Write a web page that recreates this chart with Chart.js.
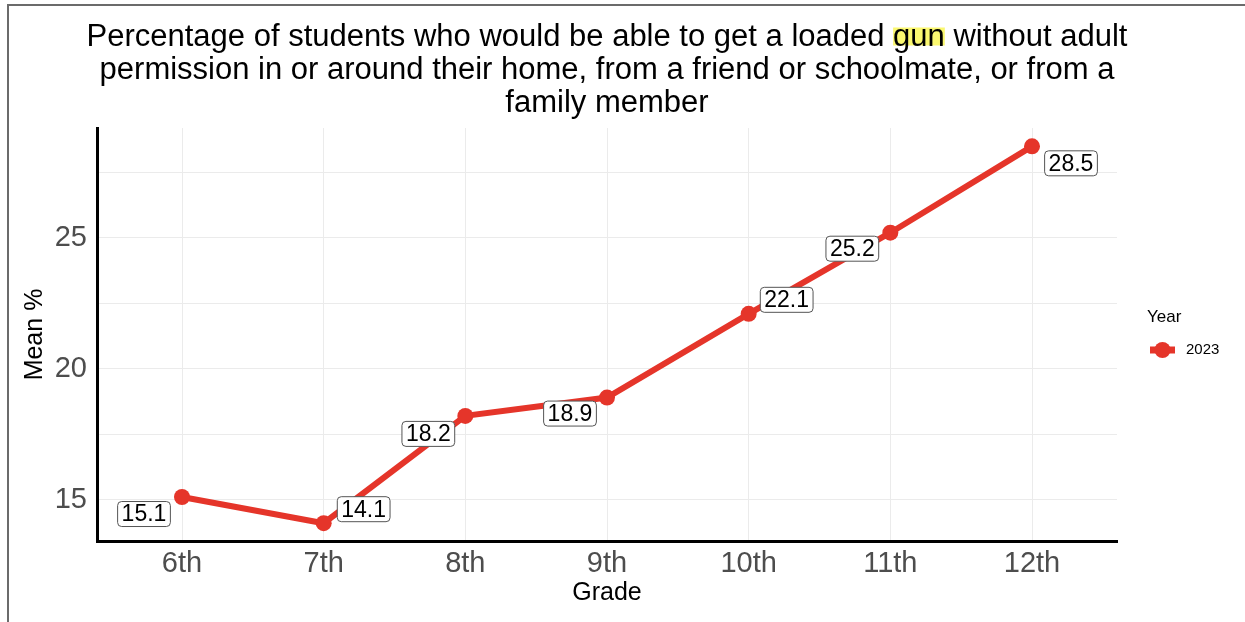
<!DOCTYPE html>
<html>
<head>
<meta charset="utf-8">
<script src="https://cdn.jsdelivr.net/npm/chart.js@4.4.1/dist/chart.umd.min.js"></script>
<style>
  html, body { margin: 0; padding: 0; background: #fff; }
  #wrap { width: 1245px; height: 622px; }
</style>
</head>
<body>
<div id="wrap"><canvas id="grafico" width="1245" height="622"></canvas></div>
<script>
const grados = ['6th', '7th', '8th', '9th', '10th', '11th', '12th'];
const valores = [15.1, 14.1, 18.2, 18.9, 22.1, 25.2, 28.5];
const ticksY = [15, 17.5, 20, 22.5, 25, 27.5];
const anio = '2023';

const tituloLineas = [
    'Percentage of students who would be able to get a loaded gun without adult',
    'permission in or around their home, from a friend or schoolmate, or from a',
    'family member'
];

const FUENTE = '"Liberation Sans", Arial, Helvetica, sans-serif';
const ROJO = '#e5352a';

// desplazamiento de cada etiqueta respecto a su punto (estilo ggrepel)
const desplaz = [[-38, 17], [40, -14], [-37, 18], [-37, 16], [38, -14], [-38, 16], [39, 17]];

const fondoPlugin = {
    id: 'fondo',
    beforeDraw(chart) {
        const ctx = chart.ctx;
        ctx.save();
        ctx.fillStyle = '#fff';
        ctx.fillRect(0, 0, chart.width, chart.height);
        ctx.strokeStyle = '#6b6b6b';
        ctx.lineWidth = 2;
        ctx.beginPath();
        ctx.moveTo(8, chart.height);
        ctx.lineTo(8, 5);
        ctx.lineTo(chart.width, 5);
        ctx.stroke();
        ctx.restore();
    }
};

const tituloPlugin = {
    id: 'tituloResaltado',
    afterDraw(chart) {
        const ctx = chart.ctx;
        const area = chart.chartArea;
        const cx = (area.left + area.right) / 2;
        ctx.save();
        ctx.font = '31px ' + FUENTE;
        ctx.textBaseline = 'alphabetic';
        tituloLineas.forEach((linea, i) => {
            const base = 45.5 + i * 33;
            const ancho = ctx.measureText(linea).width;
            const x0 = cx - ancho / 2;
            const idx = linea.indexOf(' gun ');
            if (idx >= 0) {
                const antes = ctx.measureText(linea.slice(0, idx + 1)).width;
                const w = ctx.measureText('gun').width;
                ctx.fillStyle = '#fbf870';
                ctx.fillRect(x0 + antes, base - 18, w, 18);
            }
            ctx.fillStyle = '#000';
            ctx.textAlign = 'left';
            ctx.fillText(linea, x0, base);
        });
        ctx.restore();
    }
};

const etiquetasPlugin = {
    id: 'etiquetas',
    afterDatasetsDraw(chart) {
        const ctx = chart.ctx;
        const puntos = chart.getDatasetMeta(0).data;
        ctx.save();
        ctx.font = '23px ' + FUENTE;
        ctx.textAlign = 'center';
        ctx.textBaseline = 'middle';
        puntos.forEach((p, i) => {
            const txt = valores[i].toFixed(1);
            const w = ctx.measureText(txt).width + 8;
            const h = 25;
            const x = p.x + desplaz[i][0];
            const y = p.y + desplaz[i][1];
            ctx.beginPath();
            ctx.roundRect(x - w / 2, y - h / 2, w, h, 4);
            ctx.fillStyle = '#fff';
            ctx.fill();
            ctx.strokeStyle = '#555';
            ctx.lineWidth = 1;
            ctx.stroke();
            ctx.fillStyle = '#000';
            ctx.fillText(txt, x, y + 1);
        });
        ctx.restore();
    }
};

const leyendaPlugin = {
    id: 'leyenda',
    afterDraw(chart) {
        const ctx = chart.ctx;
        ctx.save();
        ctx.fillStyle = '#000';
        ctx.textBaseline = 'middle';
        ctx.textAlign = 'left';
        ctx.font = '17px ' + FUENTE;
        ctx.fillText('Year', 1147, 317);
        ctx.strokeStyle = ROJO;
        ctx.lineWidth = 7;
        ctx.beginPath();
        ctx.moveTo(1150, 350);
        ctx.lineTo(1175, 350);
        ctx.stroke();
        ctx.fillStyle = ROJO;
        ctx.beginPath();
        ctx.arc(1162.5, 350, 8, 0, Math.PI * 2);
        ctx.fill();
        ctx.fillStyle = '#000';
        ctx.font = '15px ' + FUENTE;
        ctx.fillText(anio, 1186, 350);
        ctx.restore();
    }
};

const puntos = valores.map((v, i) => ({ x: i, y: v }));

new Chart(document.getElementById('grafico'), {
    type: 'line',
    data: {
        datasets: [{
            label: anio,
            data: puntos,
            borderColor: ROJO,
            backgroundColor: ROJO,
            borderWidth: 6,
            pointRadius: 8,
            pointHoverRadius: 8,
            pointBorderWidth: 0,
            tension: 0
        }]
    },
    options: {
        responsive: false,
        devicePixelRatio: 1,
        animation: false,
        layout: { padding: { top: 128, right: 128, left: 0, bottom: 0 } },
        plugins: {
            legend: { display: false },
            title: { display: false },
            tooltip: { enabled: false }
        },
        scales: {
            x: {
                type: 'linear',
                min: -0.6,
                max: 6.6,
                afterBuildTicks: s => { s.ticks = grados.map((g, i) => ({ value: i })); },
                afterFit: s => { s.height = 81; },
                ticks: {
                    callback: v => grados[v],
                    color: '#4d4d4d',
                    font: { family: FUENTE, size: 29 },
                    padding: 6,
                    autoSkip: false,
                    maxRotation: 0
                },
                grid: { color: '#ebebeb', lineWidth: 1, drawTicks: false },
                border: { display: true, color: '#000', width: 3 },
                title: {
                    display: true,
                    text: 'Grade',
                    color: '#000',
                    font: { family: FUENTE, size: 25 },
                    padding: { top: 0, bottom: 14 }
                }
            },
            y: {
                min: 13.42,
                max: 29.2,
                afterBuildTicks: s => { s.ticks = ticksY.map(v => ({ value: v })); },
                afterFit: s => { s.width = 97; },
                ticks: {
                    callback: v => (v % 5 === 0 ? String(v) : ''),
                    color: '#4d4d4d',
                    font: { family: FUENTE, size: 29 },
                    padding: 10
                },
                grid: { color: '#ebebeb', lineWidth: 1, drawTicks: false },
                border: { display: true, color: '#000', width: 3 },
                title: {
                    display: true,
                    text: 'Mean %',
                    color: '#000',
                    font: { family: FUENTE, size: 25 },
                    padding: { top: 20, bottom: 0 }
                }
            }
        }
    },
    plugins: [fondoPlugin, tituloPlugin, etiquetasPlugin, leyendaPlugin]
});
</script>
</body>
</html>
